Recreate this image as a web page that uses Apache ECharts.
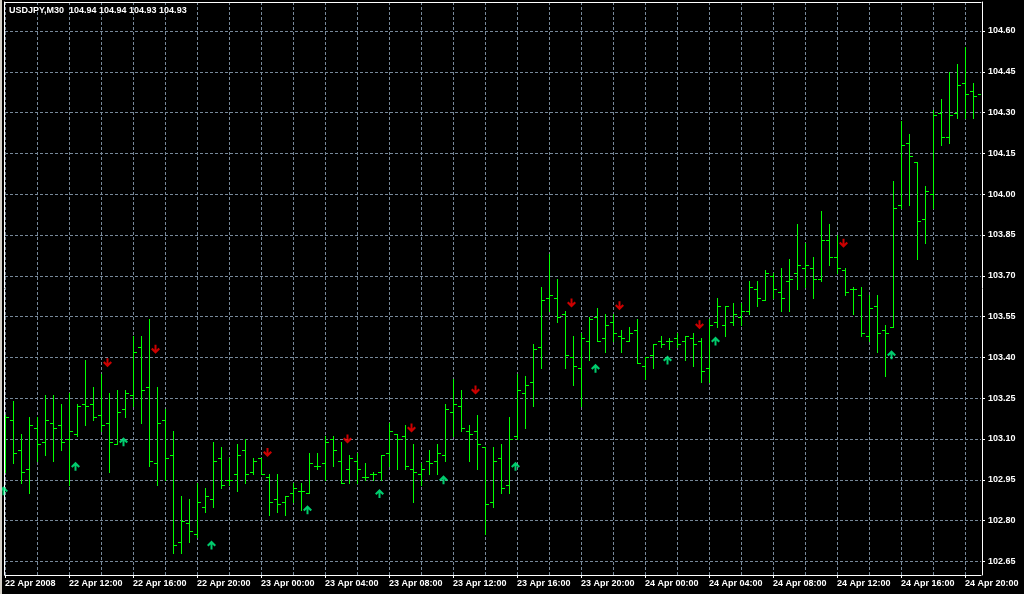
<!DOCTYPE html>
<html>
<head>
<meta charset="utf-8">
<script src="https://cdn.jsdelivr.net/npm/echarts@6/dist/echarts.min.js"></script>
<style>
html,body{margin:0;padding:0;background:#000;}
#wrap{position:relative;width:1024px;height:594px;}
#c{width:1024px;height:594px;}
#edge{position:absolute;left:0;top:0;width:2px;height:594px;background:#d4d0c8;}
</style>
</head>
<body>
<div id="wrap"><div id="c"></div><div id="edge"></div></div>
<script>
// USDJPY M30, 30-minute bars starting 22 Apr 2008 08:00
const openP = [103.10,103.17,103.06,102.99,103.14,103.09,103.16,103.15,103.10,103.12,
103.23,103.23,103.19,103.16,103.08,103.21,103.26,103.44,103.29,103.01,
103.17,103.04,102.72,102.79,102.75,102.85,102.88,103.03,102.95,102.97,
103.06,102.98,103.03,102.96,102.88,102.87,102.90,102.91,102.90,103.00,
103.01,103.10,103.02,102.99,103.02,102.96,102.97,102.98,103.05,103.12,
103.11,102.99,102.97,103.02,103.02,103.04,103.20,103.22,103.13,103.13,
103.07,102.87,103.03,102.93,103.11,103.27,103.31,103.44,103.62,103.62,
103.56,103.40,103.36,103.46,103.55,103.47,103.53,103.48,103.46,103.50,
103.37,103.41,103.46,103.46,103.47,103.46,103.47,103.46,103.36,103.53,
103.52,103.53,103.55,103.57,103.65,103.61,103.70,103.64,103.68,103.71,
103.73,103.73,103.69,103.83,103.77,103.72,103.65,103.63,103.48,103.59,
103.50,103.51,103.96,104.19,104.12,103.91,104.00,104.30,104.21,104.30,
104.41,104.38,104.37];
const highP = [103.19,103.24,103.12,103.18,103.18,103.26,103.26,103.23,103.27,103.23,
103.39,103.29,103.34,103.27,103.28,103.28,103.48,103.48,103.54,103.29,
103.21,103.13,102.89,102.88,102.94,102.92,103.09,103.07,103.03,103.08,
103.10,103.03,103.03,102.97,102.97,102.89,102.94,102.94,103.05,103.05,
103.11,103.11,103.09,103.04,103.05,103.01,102.98,103.04,103.16,103.12,
103.15,103.08,103.01,103.06,103.08,103.23,103.32,103.28,103.15,103.19,
103.07,103.07,103.08,103.18,103.34,103.33,103.45,103.66,103.78,103.69,
103.57,103.48,103.49,103.55,103.58,103.56,103.56,103.50,103.51,103.54,
103.40,103.45,103.48,103.47,103.49,103.48,103.49,103.47,103.54,103.62,
103.59,103.60,103.60,103.68,103.68,103.72,103.71,103.73,103.76,103.89,
103.82,103.77,103.94,103.89,103.85,103.73,103.66,103.66,103.63,103.63,
103.52,104.05,104.27,104.22,104.12,104.03,104.31,104.35,104.45,104.48,
104.54,104.41,104.47];
const lowP = [102.98,103.01,102.94,102.90,103.02,103.04,103.02,103.06,102.93,103.11,
103.15,103.17,103.13,102.98,103.08,103.18,103.22,103.16,103.00,102.93,
102.95,102.68,102.68,102.72,102.74,102.83,102.85,102.92,102.93,102.91,
102.94,102.97,102.97,102.82,102.83,102.82,102.87,102.84,102.90,102.99,
102.95,103.00,102.94,102.94,102.94,102.95,102.95,102.95,103.00,102.99,
102.99,102.87,102.93,102.97,102.97,103.02,103.11,103.13,103.02,102.99,
102.75,102.85,102.90,102.90,103.10,103.14,103.22,103.36,103.57,103.53,
103.36,103.30,103.22,103.39,103.46,103.42,103.46,103.42,103.46,103.38,
103.32,103.36,103.44,103.43,103.44,103.39,103.37,103.31,103.31,103.51,
103.48,103.52,103.52,103.56,103.59,103.61,103.62,103.57,103.57,103.65,
103.66,103.62,103.68,103.74,103.71,103.63,103.56,103.48,103.46,103.42,
103.33,103.51,103.95,103.96,103.76,103.82,103.95,104.18,104.19,104.28,
104.28,104.28,104.35];
const closeP = [103.18,103.05,102.98,103.15,103.08,103.17,103.14,103.09,103.13,103.22,
103.22,103.18,103.15,103.09,103.20,103.27,103.42,103.28,103.02,103.16,
103.03,102.71,102.80,102.76,102.87,102.89,103.02,102.93,102.95,103.04,
102.97,103.02,102.97,102.87,102.86,102.89,102.92,102.91,103.01,103.00,
103.09,103.06,102.94,103.03,102.99,102.96,102.97,103.04,103.13,103.10,
103.00,102.98,102.99,103.01,103.05,103.21,103.23,103.14,103.12,103.08,
102.86,103.02,102.92,103.10,103.28,103.30,103.43,103.61,103.63,103.55,
103.41,103.37,103.47,103.54,103.46,103.52,103.49,103.47,103.49,103.38,
103.40,103.45,103.45,103.46,103.45,103.48,103.45,103.35,103.52,103.59,
103.59,103.56,103.57,103.66,103.62,103.71,103.65,103.62,103.69,103.74,
103.74,103.69,103.83,103.77,103.73,103.64,103.65,103.49,103.58,103.49,
103.49,103.95,104.18,104.14,103.90,104.01,104.29,104.21,104.29,104.40,
104.37,104.36,104.36];

// signal arrows: bar index and price level
const downIdx = [13,19,33,43,51,59,71,77,87,105];
const downPrice = [103.38,103.43,103.05,103.10,103.14,103.28,103.60,103.59,103.52,103.82];
const upIdx = [0,9,15,26,38,47,55,64,74,83,89,111];
const upPrice = [102.91,103.00,103.09,102.71,102.84,102.90,102.95,103.00,103.36,103.39,103.46,103.41];

const tickLabels = ['22 Apr 2008','22 Apr 12:00','22 Apr 16:00','22 Apr 20:00','23 Apr 00:00',
'23 Apr 04:00','23 Apr 08:00','23 Apr 12:00','23 Apr 16:00','23 Apr 20:00','24 Apr 00:00',
'24 Apr 04:00','24 Apr 08:00','24 Apr 12:00','24 Apr 16:00','24 Apr 20:00'];
const priceTicks = [102.65,102.80,102.95,103.10,103.25,103.40,103.55,103.70,103.85,104.00,104.15,104.30,104.45,104.60];
const yMin = 102.60, yMax = 104.7066;
const header = 'USDJPY,M30  104.94 104.94 104.93 104.93';

// category timestamps for each bar
const categories = [];
(function(){
  const months = ['Jan','Feb','Mar','Apr','May','Jun','Jul','Aug','Sep','Oct','Nov','Dec'];
  const t0 = Date.UTC(2008,3,22,8,0);
  for (let i = 0; i < openP.length; i++) {
    const d = new Date(t0 + i*1800000);
    const hh = String(d.getUTCHours()).padStart(2,'0'), mm = String(d.getUTCMinutes()).padStart(2,'0');
    categories.push(d.getUTCDate() + ' ' + months[d.getUTCMonth()] + ' ' + hh + ':' + mm);
  }
})();

const bars = openP.map((o, i) => [i, o, highP[i], lowP[i], closeP[i]]);
const FONT = '"Liberation Sans", Arial, sans-serif';
const BAR = '#00ff00';
const GRID = '#778899';

const downPath = 'path://M3.5,0 L5.5,0 L5.5,5 L7.5,3 L9,4.5 L4.5,9 L0,4.5 L1.5,3 L3.5,5 Z';
const upPath = 'path://M3.5,9 L5.5,9 L5.5,4 L7.5,6 L9,4.5 L4.5,0 L0,4.5 L1.5,6 L3.5,4 Z';

function renderBar(params, api) {
  const i = api.value(0);
  const po = api.coord([i, api.value(1)]);
  const ph = api.coord([i, api.value(2)]);
  const pl = api.coord([i, api.value(3)]);
  const pc = api.coord([i, api.value(4)]);
  const x = Math.round(po[0]);
  const yh = Math.round(ph[1]), yl = Math.round(pl[1]);
  const yo = Math.round(po[1]), yc = Math.round(pc[1]);
  const st = () => ({fill: BAR});
  return {type: 'group', children: [
    {type: 'rect', shape: {x: x, y: yh, width: 1, height: yl - yh + 1}, style: st()},
    {type: 'rect', shape: {x: x - 3, y: yo, width: 3, height: 1}, style: st()},
    {type: 'rect', shape: {x: x + 1, y: yc, width: 3, height: 1}, style: st()}
  ]};
}

const TXT = {color: '#ffffff', fontSize: 9, fontWeight: 'bold', fontFamily: FONT};
const chart = echarts.init(document.getElementById('c'), null, {renderer: 'canvas'});
chart.setOption({
  backgroundColor: '#000000',
  animation: false,
  title: {text: header, left: 9, top: 6, padding: 0, textStyle: TXT},
  grid: {left: 5, right: 43, top: 2, bottom: 19, containLabel: false},
  xAxis: [{
    type: 'category', data: categories, boundaryGap: false,
    axisLine: {show: true, lineStyle: {color: '#ffffff', width: 1}},
    axisTick: {show: true, interval: 7, length: 3, lineStyle: {color: '#ffffff'}},
    axisLabel: Object.assign({interval: 7, align: 'left', margin: 4,
      formatter: (v, idx) => (idx % 8 === 0 && tickLabels[idx / 8]) ? tickLabels[idx / 8] : ''}, TXT),
    splitLine: {show: true, interval: 3, lineStyle: {color: GRID, type: [3, 2], width: 1}}
  }, {
    type: 'category', data: categories, boundaryGap: false, position: 'top',
    axisLine: {show: true, lineStyle: {color: '#ffffff', width: 1}},
    axisTick: {show: false}, axisLabel: {show: false}, splitLine: {show: false}
  }],
  yAxis: [{
    type: 'value', position: 'right', offset: 1, min: yMin, max: yMax,
    axisLine: {show: true, lineStyle: {color: '#ffffff', width: 1}},
    axisTick: {show: true, length: 3, customValues: priceTicks, lineStyle: {color: '#ffffff'}},
    axisLabel: Object.assign({customValues: priceTicks, margin: 6,
      formatter: v => Number(v).toFixed(2)}, TXT),
    splitLine: {show: true, lineStyle: {color: GRID, type: [3, 2], width: 1}}
  }, {
    type: 'value', position: 'left', offset: 1, min: yMin, max: yMax,
    axisLine: {show: true, lineStyle: {color: '#ffffff', width: 1}},
    axisTick: {show: false}, axisLabel: {show: false}, splitLine: {show: false}
  }],
  series: [{
    type: 'custom', name: 'USDJPY', renderItem: renderBar, data: bars,
    encode: {x: 0, y: [1, 2, 3, 4]}, clip: true, silent: true, z: 3
  }, {
    type: 'scatter', name: 'sell', data: downIdx.map((k, i) => [k, downPrice[i]]),
    symbol: downPath, symbolSize: [9, 9], symbolOffset: [-1.5, 0], symbolKeepAspect: true,
    itemStyle: {color: '#ff0000'}, silent: true, z: 5
  }, {
    type: 'scatter', name: 'buy', data: upIdx.map((k, i) => [k, upPrice[i]]),
    symbol: upPath, symbolSize: [9, 9], symbolOffset: [-1.5, 0], symbolKeepAspect: true,
    itemStyle: {color: '#00ff88'}, silent: true, z: 5
  }]
});
</script>
</body>
</html>
